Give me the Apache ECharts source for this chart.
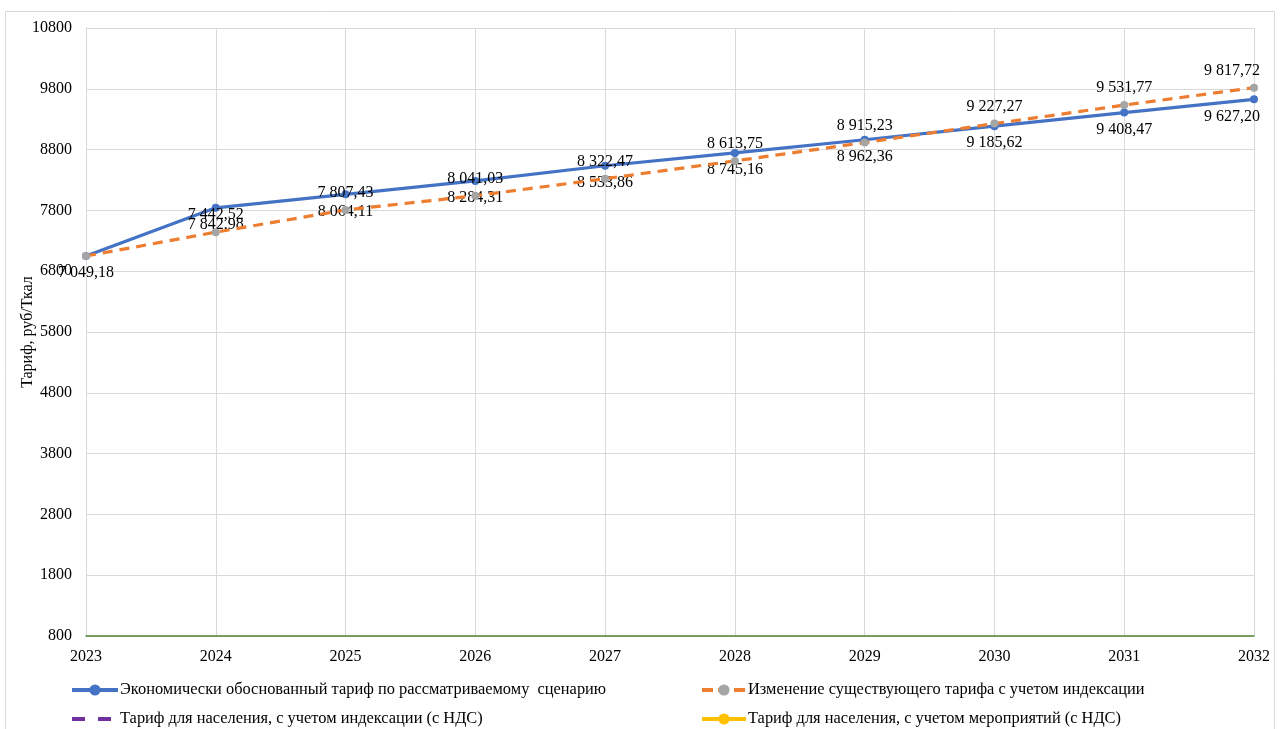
<!DOCTYPE html>
<html>
<head>
<meta charset="utf-8">
<script src="https://cdn.jsdelivr.net/npm/echarts@6/dist/echarts.min.js"></script>
<style>html,body{margin:0;padding:0;background:#fff;}#c{width:1280px;height:729px;}</style>
</head>
<body>
<div id="c"></div>
<script>
const years = ['2023','2024','2025','2026','2027','2028','2029','2030','2031','2032'];
const economicTariff = [7049.18, 7842.98, 8064.11, 8284.31, 8533.86, 8745.16, 8962.36, 9185.62, 9408.47, 9627.20];
const indexedTariff = [7049.18, 7442.52, 7807.43, 8041.03, 8322.47, 8613.75, 8915.23, 9227.27, 9531.77, 9817.72];
const populationIndexed = [];
const populationMeasures = [];
const seriesNames = [
  'Экономически обоснованный тариф по рассматриваемому  сценарию',
  'Изменение существующего тарифа с учетом индексации',
  'Тариф для населения, с учетом индексации (с НДС)',
  'Тариф для населения, с учетом мероприятий (с НДС)'
];
const yMin = 800, yMax = 10800, yStep = 1000;

function fmt(v) {
  const s = v.toFixed(2).split('.');
  return s[0].replace(/\B(?=(\d{3})+(?!\d))/g, ' ') + ',' + s[1];
}
const FONT = '"Liberation Serif", "Times New Roman", serif';
const FS = 16;
const last = years.length - 1;

function leg(item, left, top, w, dash) {
  return {
    data: [item], orient: 'horizontal', left: left, top: top,
    itemWidth: w, itemHeight: 14, itemGap: 2,
    lineStyle: dash ? { width: 4, type: dash } : { width: 4 },
    textStyle: { fontFamily: FONT, fontSize: 16.4, color: '#000', padding: [0, 0, 0, -3] }
  };
}

const chart = echarts.init(document.getElementById('c'));
chart.setOption({
  animation: false,
  textStyle: { fontFamily: FONT },
  graphic: [{
    type: 'rect', shape: { x: 5.5, y: 11.5, width: 1269, height: 740 },
    style: { fill: 'none', stroke: '#d9d9d9', lineWidth: 1 }, silent: true, z: -10
  }],
  grid: { left: 86, right: 26, top: 28, bottom: 93, outerBoundsMode: 'none', containLabel: false },
  legend: [
    leg(seriesNames[0], 65, 677, 46),
    leg({ name: seriesNames[2], itemStyle: { opacity: 0 } }, 65, 706, 46, [13, 13]),
    leg(seriesNames[1], 695, 677, 44, [11, 5]),
    leg(seriesNames[3], 695, 706, 44)
  ],
  xAxis: {
    type: 'category', data: years, boundaryGap: false,
    axisLine: { lineStyle: { color: '#548235', width: 1.5 } },
    axisTick: { show: false },
    axisLabel: { color: '#000', fontSize: FS, fontFamily: FONT, margin: 13 },
    splitLine: { show: true, lineStyle: { color: '#d9d9d9', width: 1 } }
  },
  yAxis: {
    type: 'value', min: yMin, max: yMax, interval: yStep,
    name: 'Тариф, руб/Ткал', nameLocation: 'middle', nameGap: 50, nameMoveOverlap: false,
    nameTextStyle: { color: '#000', fontSize: FS, fontFamily: FONT },
    axisLine: { show: true, lineStyle: { color: '#d9d9d9' } },
    axisTick: { show: false },
    axisLabel: { color: '#000', fontSize: FS, fontFamily: FONT, margin: 14, formatter: v => String(v) },
    splitLine: { lineStyle: { color: '#d9d9d9', width: 1 } }
  },
  series: [{
    name: seriesNames[0], type: 'line',
    data: economicTariff.map((v, i) => i === last ? { value: v, label: { offset: [-22, 0] } } : v),
    symbol: 'circle', symbolSize: 8,
    lineStyle: { color: '#4472c4', width: 3.2 },
    itemStyle: { color: '#4472c4' },
    label: { show: true, position: 'bottom', distance: 5, color: '#000', fontSize: FS, fontFamily: FONT,
      formatter: p => fmt(p.value) },
    z: 2
  }, {
    name: seriesNames[1], type: 'line',
    data: indexedTariff.map((v, i) => i === 0 ? { value: v, label: { show: false } }
      : (i === last ? { value: v, label: { offset: [-22, 0] } } : v)),
    symbol: 'circle', symbolSize: 8,
    lineStyle: { color: '#ed7d31', width: 3.2, type: [10, 7] },
    itemStyle: { color: '#a5a5a5' },
    label: { show: true, position: 'top', distance: 5, color: '#000', fontSize: FS, fontFamily: FONT,
      formatter: p => fmt(p.value) },
    z: 3
  }, {
    name: seriesNames[2], type: 'line', data: populationIndexed,
    symbol: 'none',
    lineStyle: { color: '#7030a0', width: 3, type: [10, 7] },
    itemStyle: { color: '#7030a0' }
  }, {
    name: seriesNames[3], type: 'line', data: populationMeasures,
    symbol: 'circle', symbolSize: 8,
    lineStyle: { color: '#ffc000', width: 3 },
    itemStyle: { color: '#ffc000' }
  }]
});
</script>
</body>
</html>
